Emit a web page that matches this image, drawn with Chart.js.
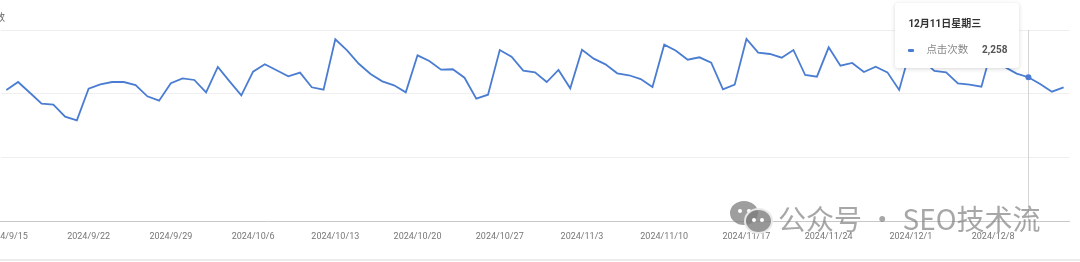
<!DOCTYPE html>
<html>
<head>
<meta charset="utf-8">
<script src="https://cdn.jsdelivr.net/npm/chart.js@4.4.1/dist/chart.umd.min.js"></script>
<style>
  html, body { margin: 0; padding: 0; background: #fff; overflow: hidden; }
  body { width: 1080px; height: 262px; position: relative; font-family: Roboto, "Noto Sans CJK SC", sans-serif; }
  #wrap { position: absolute; left: -50px; top: 0; width: 1130px; height: 262px; }
  #axisTitle { position: absolute; left: -45px; top: 9px; width: 50px; text-align: right; font-size: 10px; color: #666; }
  #bottomLine { position: absolute; left: 0; top: 259px; width: 1080px; height: 2px; background: #ececec; }
  #tip { position: absolute; box-sizing: border-box; width: 124px; height: 65px; background: #fff;
         border-radius: 3px; box-shadow: 0 1px 4px rgba(0,0,0,0.16); padding: 14px 12px 0 13px; display: none; }
  #tip .t { font-size: 10px; font-weight: bold; color: #333; line-height: 14px; white-space: nowrap; }
  #tip .r { margin-top: 12px; display: flex; align-items: center; line-height: 14px; white-space: nowrap; }
  #tip .sw { width: 6px; height: 3px; border-radius: 1px; margin-right: 12px; }
  #tip .k { font-size: 10.5px; color: #888; }
  #tip .v { font-size: 10px; font-weight: bold; color: #555; margin-left: auto; }
  #wm { position: absolute; left: 728px; top: 198px; height: 40px; padding-left: 50px; color: rgba(120,120,120,0.65); font-size: 28px;
        font-family: "Noto Sans CJK SC", sans-serif; line-height: 40px; white-space: nowrap; }
  #wm .ic { position: absolute; left: 0; top: 1px; width: 44px; height: 36px; }
  #wm .b1 { position: absolute; left: 2px; top: 2px; width: 28px; height: 24px; border-radius: 50%; background: rgba(125,125,125,0.75); }
  #wm .b2 { position: absolute; left: 16px; top: 9px; width: 25px; height: 22px; border-radius: 50%; background: rgba(125,125,125,0.8); border: 2px solid rgba(255,255,255,0.8); }
  #wm .d { position: absolute; width: 4px; height: 4px; border-radius: 50%; background: #fff; }
</style>
</head>
<body>
<div id="wrap"><canvas id="chart" width="1130" height="262"></canvas></div>
<div id="axisTitle">点击次数</div>
<div id="bottomLine"></div>
<div id="wm"><span class="ic"><span class="b1"></span><span class="d" style="left:10px;top:10px"></span><span class="d" style="left:19px;top:10px"></span><span class="b2"></span><span class="d" style="left:24px;top:19px"></span><span class="d" style="left:32px;top:19px"></span></span>公众号 · SEO技术流</div>
<div id="tip">
  <div class="t" id="tipTitle"></div>
  <div class="r"><span class="sw" id="tipSw"></span><span class="k" id="tipKey"></span><span class="v" id="tipVal"></span></div>
</div>
<script>
// --- DONNÉES ---
const dates = [
  '2024/9/15','2024/9/16','2024/9/17','2024/9/18','2024/9/19','2024/9/20','2024/9/21',
  '2024/9/22','2024/9/23','2024/9/24','2024/9/25','2024/9/26','2024/9/27','2024/9/28',
  '2024/9/29','2024/9/30','2024/10/1','2024/10/2','2024/10/3','2024/10/4','2024/10/5',
  '2024/10/6','2024/10/7','2024/10/8','2024/10/9','2024/10/10','2024/10/11','2024/10/12',
  '2024/10/13','2024/10/14','2024/10/15','2024/10/16','2024/10/17','2024/10/18','2024/10/19',
  '2024/10/20','2024/10/21','2024/10/22','2024/10/23','2024/10/24','2024/10/25','2024/10/26',
  '2024/10/27','2024/10/28','2024/10/29','2024/10/30','2024/10/31','2024/11/1','2024/11/2',
  '2024/11/3','2024/11/4','2024/11/5','2024/11/6','2024/11/7','2024/11/8','2024/11/9',
  '2024/11/10','2024/11/11','2024/11/12','2024/11/13','2024/11/14','2024/11/15','2024/11/16',
  '2024/11/17','2024/11/18','2024/11/19','2024/11/20','2024/11/21','2024/11/22','2024/11/23',
  '2024/11/24','2024/11/25','2024/11/26','2024/11/27','2024/11/28','2024/11/29','2024/11/30',
  '2024/12/1','2024/12/2','2024/12/3','2024/12/4','2024/12/5','2024/12/6','2024/12/7',
  '2024/12/8','2024/12/9','2024/12/10','2024/12/11','2024/12/12','2024/12/13','2024/12/14'
];
const clics = [
  2058, 2183, 2015, 1843, 1827, 1638, 1581,
  2078, 2147, 2183, 2183, 2136, 1958, 1890,
  2163, 2241, 2215, 2021, 2419, 2194, 1974,
  2345, 2461, 2367, 2273, 2330, 2100, 2063,
  2854, 2680, 2470, 2309, 2194, 2131, 2021,
  2602, 2513, 2377, 2383, 2251, 1921, 1984,
  2686, 2581, 2361, 2335, 2183, 2372, 2084,
  2691, 2550, 2461, 2320, 2289, 2230, 2105,
  2770, 2675, 2534, 2571, 2487, 2068, 2141,
  2859, 2644, 2623, 2565, 2686, 2293, 2267,
  2728, 2440, 2482, 2340, 2424, 2335, 2058,
  2720, 2520, 2356, 2335, 2163, 2141, 2110,
  2780, 2419, 2315, 2258, 2152, 2031, 2100
];
const yTicks = [0, 1000, 2000, 3000];
const serieNom = '点击次数';
const jours = ['星期日', '星期一', '星期二', '星期三', '星期四', '星期五', '星期六'];
const indexActif = 87; // 12/11
const bleu = '#4a7dd2';

// ligne verticale sous le point actif
const lignePlugin = {
  id: 'ligne',
  beforeDatasetsDraw(chart) {
    const pt = chart.getDatasetMeta(0).data[indexActif];
    if (!pt) return;
    const { ctx, chartArea } = chart;
    ctx.save();
    ctx.strokeStyle = '#d6d6d6';
    ctx.lineWidth = 1;
    ctx.beginPath();
    ctx.moveTo(Math.round(pt.x) + 0.5, chartArea.top);
    ctx.lineTo(Math.round(pt.x) + 0.5, chartArea.bottom);
    ctx.stroke();
    ctx.restore();
  }
};

function tooltipExterne(context) {
  const tip = document.getElementById('tip');
  const model = context.tooltip;
  if (model.opacity === 0 || !model.dataPoints || !model.dataPoints.length) { tip.style.display = 'none'; return; }
  const dp = model.dataPoints[0];
  document.getElementById('tipTitle').innerText = model.title[0];
  document.getElementById('tipKey').innerText = dp.dataset.label;
  document.getElementById('tipVal').innerText = dp.formattedValue;
  document.getElementById('tipSw').style.background = dp.dataset.borderColor;
  const px = context.chart.canvas.parentNode.offsetLeft + dp.element.x;
  tip.style.left = (px - 9 - 124) + 'px';
  tip.style.top = '3px';
  tip.style.display = 'block';
}

Chart.defaults.font.family = 'Roboto, "Noto Sans CJK SC", sans-serif';

const chart = new Chart(document.getElementById('chart'), {
  type: 'line',
  data: {
    labels: dates,
    datasets: [{
      label: serieNom,
      data: clics,
      borderColor: bleu,
      backgroundColor: bleu,
      borderWidth: 1.8,
      tension: 0,
      pointRadius: ctx => ctx.dataIndex === indexActif ? 3 : 0,
      pointHoverRadius: 3,
      pointBorderWidth: 0,
      pointBackgroundColor: bleu
    }]
  },
  options: {
    responsive: false,
    devicePixelRatio: 1,
    animation: false,
    events: [],
    layout: { padding: { left: 50.5, right: 10.5, top: 30, bottom: 10.2 } },
    plugins: {
      legend: { display: false },
      tooltip: {
        enabled: false,
        external: tooltipExterne,
        callbacks: {
          title: items => {
            const [a, m, j] = items[0].label.split('/').map(Number);
            return m + '月' + j + '日' + jours[new Date(a, m - 1, j).getDay()];
          }
        }
      }
    },
    scales: {
      x: {
        offset: true,
        grid: { display: false, drawTicks: false },
        border: { display: true, color: '#c8c8c8', width: 1 },
        ticks: {
          autoSkip: false,
          maxRotation: 0,
          padding: 10,
          color: '#777',
          font: { size: 9 },
          callback: function (v, i) { return i % 7 === 0 ? this.getLabelForValue(v) : ''; }
        }
      },
      y: {
        min: yTicks[0],
        max: yTicks[yTicks.length - 1],
        afterBuildTicks: axis => { axis.ticks = yTicks.map(v => ({ value: v })); },
        ticks: { display: false },
        grid: { color: c => c.tick && c.tick.value === 0 ? 'rgba(0,0,0,0)' : '#efefef', drawTicks: false },
        border: { display: false }
      }
    }
  },
  plugins: [lignePlugin]
});

const pt = chart.getDatasetMeta(0).data[indexActif];
chart.tooltip.setActiveElements([{ datasetIndex: 0, index: indexActif }], { x: pt.x, y: pt.y });
chart.update();
</script>
</body>
</html>
